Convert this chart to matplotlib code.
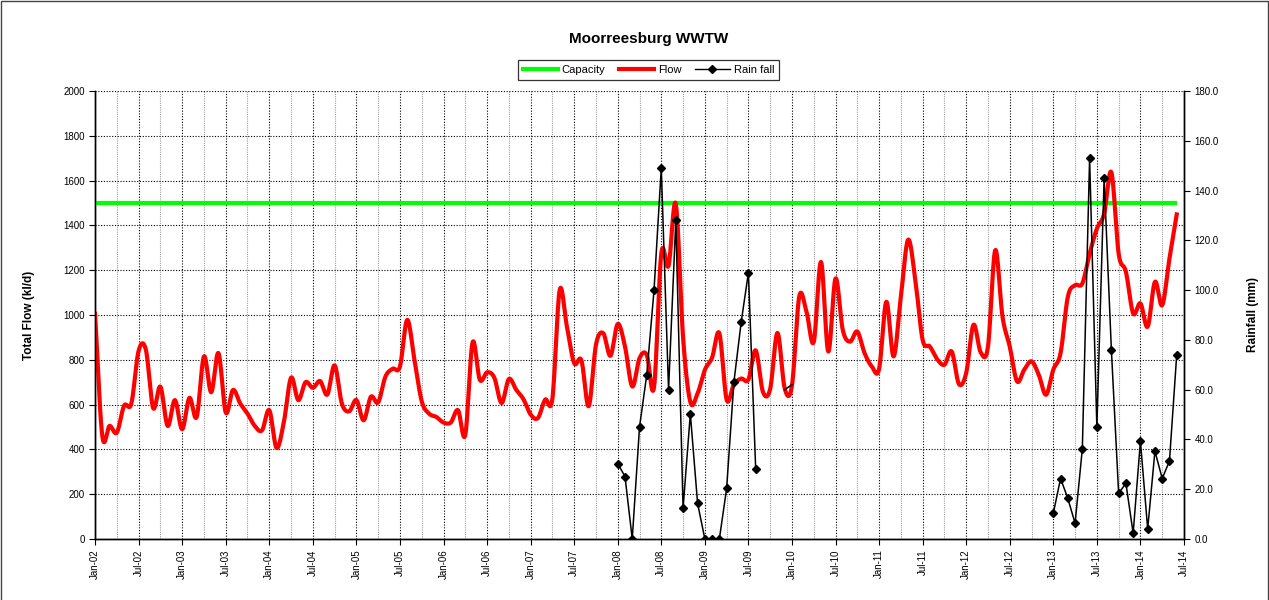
import numpy as np
import matplotlib
matplotlib.use("Agg")
import matplotlib.pyplot as plt
from matplotlib.lines import Line2D
from matplotlib.patches import Rectangle
from matplotlib.ticker import MultipleLocator, FormatStrFormatter

plt.rcParams['font.family'] = ['Liberation Sans', 'DejaVu Sans']

# ---------------------------------------------------------------------------
# Data (monthly, Jan-02 .. Jun-14)
# ---------------------------------------------------------------------------
TITLE = "Moorreesburg WWTW"
CAPACITY = 1500

flow = [
    1005, 460, 505, 475, 595, 605, 840, 845, 585, 680,
    505, 620, 490, 630, 545, 815, 655, 830, 565, 665,
    605, 560, 505, 485, 575, 407, 520, 720, 620, 700,
    675, 705, 645, 775, 605, 570, 620, 530, 635, 610,
    725, 760, 770, 978, 800, 615, 560, 545, 520, 520,
    575, 465, 877, 711, 744, 720, 607, 714, 667, 625,
    556, 540, 622, 627, 1111, 948, 785, 797, 593, 867,
    919, 818, 960, 859, 681, 807, 822, 678, 1274, 1220,
    1496, 900, 612, 650, 755, 810, 918, 622, 690, 716,
    712, 842, 657, 670, 920, 672, 685, 1082, 1015, 880,
    1237, 837, 1163, 933, 881, 926, 830, 770, 759, 1059,
    815, 1081, 1336, 1156, 889, 859, 803, 778, 837, 692,
    741, 956, 833, 859, 1289, 993, 859, 704, 756, 793,
    733, 644, 756, 830, 1081, 1133, 1141, 1274, 1385, 1452,
    1637, 1274, 1193, 1007, 1052, 948, 1148, 1044, 1252, 1449,
]

nan = np.nan
rain = ([nan] * 72
        + [30.3, 25.1, 0, 45, 66, 100, 149, 60, 128, 12.3,
           50.3, 14.3, 0, 0, 0, 20.3, 63, 87, 107, 28.3]
        + [nan] * 3
        + [60, 62]
        + [nan] * 35
        + [10.3, 24.3, 16.3, 6.3, 36.3, 153, 45, 145, 76, 18.3,
           22.4, 2.3, 39.3, 4, 35.3, 24.3, 31.3, 74])
rain_no_marker = [95, 96]

tick_labels = ["Jan-02", "Jul-02", "Jan-03", "Jul-03", "Jan-04", "Jul-04",
               "Jan-05", "Jul-05", "Jan-06", "Jul-06", "Jan-07", "Jul-07",
               "Jan-08", "Jul-08", "Jan-09", "Jul-09", "Jan-10", "Jul-10",
               "Jan-11", "Jul-11", "Jan-12", "Jul-12", "Jan-13", "Jul-13",
               "Jan-14", "Jul-14"]

months = np.arange(len(flow))


def smooth(x, y, steps=16):
    """Catmull-Rom curve through the points (like Excel's smoothed line)."""
    x = np.asarray(x, float)
    y = np.asarray(y, float)
    px = np.concatenate([[2 * x[0] - x[1]], x, [2 * x[-1] - x[-2]]])
    py = np.concatenate([[2 * y[0] - y[1]], y, [2 * y[-1] - y[-2]]])
    t = np.linspace(0, 1, steps, endpoint=False)
    xs, ys = [], []
    for i in range(1, len(px) - 2):
        for p, out in ((px, xs), (py, ys)):
            p0, p1, p2, p3 = p[i - 1], p[i], p[i + 1], p[i + 2]
            out.append(0.5 * (2 * p1 + (-p0 + p2) * t
                              + (2 * p0 - 5 * p1 + 4 * p2 - p3) * t ** 2
                              + (-p0 + 3 * p1 - 3 * p2 + p3) * t ** 3))
    xs.append([x[-1]])
    ys.append([y[-1]])
    return np.concatenate(xs), np.concatenate(ys)


# ---------------------------------------------------------------------------
# Figure
# ---------------------------------------------------------------------------
fig = plt.figure(figsize=(12.69, 6.0), dpi=100, facecolor="white")
ax = fig.add_axes([0.0749, 0.1017, 0.8581, 0.7466])
ax2 = ax.twinx()

ax.set_xlim(0, 150)
ax.set_ylim(0, 2000)
ax2.set_ylim(0, 180)

ax.set_axisbelow(True)
ax.yaxis.set_major_locator(MultipleLocator(200))
ax2.yaxis.set_major_locator(MultipleLocator(20))
ax2.yaxis.set_major_formatter(FormatStrFormatter("%.1f"))
ax.set_xticks(np.arange(0, 151, 6))
ax.set_xticks(np.arange(0, 151, 3), minor=True)
ax.set_xticklabels(tick_labels, rotation=90, fontsize=7)

ax.grid(axis="y", color="black", ls=(0, (1, 1.5)), lw=0.8)
ax.grid(axis="x", which="major", color="black", ls=(0, (1, 1.5)), lw=0.8)
ax.grid(axis="x", which="minor", color="#a0a0a0", ls=(0, (1, 1)), lw=0.8)

ax.tick_params(axis="x", which="minor", length=0)
ax.tick_params(axis="both", which="major", labelsize=7, length=4, width=0.8)
ax2.tick_params(axis="y", labelsize=7, length=4, width=0.8)

for a in (ax, ax2):
    a.spines["top"].set_visible(False)
    for s in ("left", "right", "bottom"):
        a.spines[s].set_linewidth(1.0)

# capacity
ax.plot([0, len(flow) - 1], [CAPACITY, CAPACITY], color="#00ff00", lw=3,
        solid_capstyle="butt", zorder=3)
# flow (smoothed)
sx, sy = smooth(months, flow)
ax.plot(sx, sy, color="#ff0000", lw=3, zorder=4)

# rainfall
marker_idx = [i for i, v in enumerate(rain)
              if not np.isnan(v) and i not in rain_no_marker]
ax2.plot(months, rain, color="black", lw=1.1, marker="D", ms=4.5,
         markevery=marker_idx, zorder=5)

ax.set_ylabel("Total Flow (kl/d)", fontsize=8.5, fontweight="bold")
ax.yaxis.set_label_coords(-0.055, 0.5)
ax2.set_ylabel("Rainfall (mm)", fontsize=8.5, fontweight="bold")
ax2.yaxis.set_label_coords(1.058, 0.5)

fig.text(0.511, 0.935, TITLE, ha="center", va="center",
         fontsize=11, fontweight="bold")

handles = [
    Line2D([], [], color="#00ff00", lw=3),
    Line2D([], [], color="#ff0000", lw=3),
    Line2D([], [], color="black", lw=1, marker="D", ms=4),
]
leg = fig.legend(handles, ["Capacity", "Flow", "Rain fall"], loc="center",
                 bbox_to_anchor=(0.511, 0.883), ncol=3, fontsize=8,
                 frameon=True, fancybox=False, edgecolor="black",
                 handlelength=3.2, columnspacing=1.2, handletextpad=0.3,
                 borderpad=0.45)
leg.get_frame().set_linewidth(0.9)

# chart area border
fig.patches.append(Rectangle((0.0008, -0.02), 0.9984, 1.018,
                             transform=fig.transFigure, fill=False,
                             edgecolor="#444444", lw=1.0))

fig.savefig("out.png", dpi=100, facecolor="white")
